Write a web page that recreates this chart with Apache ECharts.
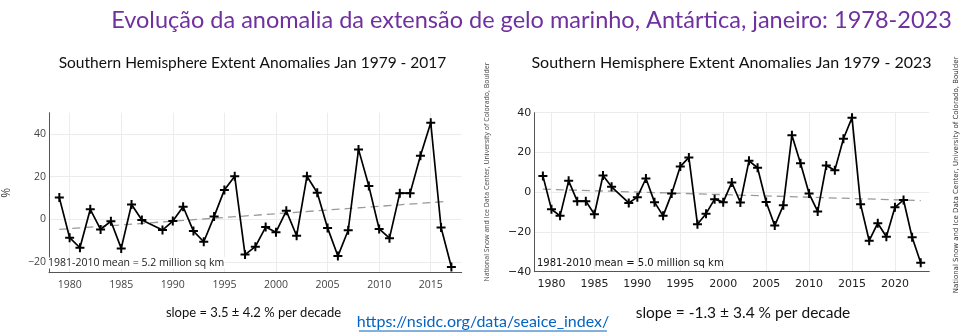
<!DOCTYPE html>
<html><head><meta charset="utf-8">
<script src="https://cdn.jsdelivr.net/npm/echarts@6/dist/echarts.min.js"></script>
<style>html,body{margin:0;padding:0;background:#fff}#c{width:964px;height:336px}</style>
</head><body><div id="c"></div>
<script>
const mainTitle = 'Evolução da anomalia da extensão de gelo marinho, Antártica, janeiro: 1978-2023';
const leftTitle = 'Southern Hemisphere Extent Anomalies Jan 1979 - 2017';
const rightTitle = 'Southern Hemisphere Extent Anomalies Jan 1979 - 2023';
const leftMean = '1981-2010 mean = 5.2 million sq km';
const rightMean = '1981-2010 mean = 5.0 million sq km';
const leftSlope = 'slope = 3.5 ± 4.2 % per decade';
const rightSlope = 'slope = -1.3 ± 3.4 % per decade';
const linkText = 'https://nsidc.org/data/seaice_index/';
const credit = 'National Snow and Ice Data Center, University of Colorado, Boulder';

const leftYears = [1979,1980,1981,1982,1983,1984,1985,1986,1987,1989,1990,1991,1992,1993,1994,1995,1996,1997,1998,1999,2000,2001,2002,2003,2004,2005,2006,2007,2008,2009,2010,2011,2012,2013,2014,2015,2016,2017];
const leftValues = [10.2,-8.6,-13.3,4.7,-4.7,-0.9,-13.6,7.0,-0.3,-5.0,-0.8,5.9,-5.5,-10.5,1.3,13.8,20.2,-16.5,-12.8,-3.6,-6.0,4.0,-7.7,20.2,12.5,-4.0,-17.2,-5.1,32.8,15.6,-4.5,-8.8,12.3,12.3,29.8,45.3,-3.8,-22.3];
const leftTrendYears = [1979, 2016.5];
const leftTrendValues = [-4.7, 8.4];
const leftXTicks = [1980,1985,1990,1995,2000,2005,2010,2015];
const leftYTicks = [-20,0,20,40];

const rightYears = [1979,1980,1981,1982,1983,1984,1985,1986,1987,1989,1990,1991,1992,1993,1994,1995,1996,1997,1998,1999,2000,2001,2002,2003,2004,2005,2006,2007,2008,2009,2010,2011,2012,2013,2014,2015,2016,2017,2018,2019,2020,2021,2022,2023];
const rightValues = [8.2,-8.6,-11.9,5.7,-4.5,-4.5,-11.1,8.4,2.7,-5.4,-2.5,6.9,-5.0,-11.9,-0.7,12.9,17.5,-16.1,-10.8,-3.5,-5.0,4.9,-5.2,15.8,12.3,-4.9,-16.8,-6.6,28.6,14.6,-0.7,-9.7,13.4,11.1,26.9,37.5,-6.1,-24.4,-15.6,-22.4,-7.6,-3.9,-22.7,-35.5];
const rightTrendYears = [1979, 2023];
const rightTrendValues = [1.5, -4.2];
const rightXTicks = [1980,1985,1990,1995,2000,2005,2010,2015,2020];
const rightYTicks = [-40,-20,0,20,40];

const pairs = (xs, ys) => xs.map((x, i) => [x, ys[i]]);
const plus = 'path://M3.5,0h2v3.5h3.5v2h-3.5v3.5h-2v-3.5h-3.5v-2h3.5z';

const chart = echarts.init(document.getElementById('c'), null, {renderer: 'canvas'});
const gridCol = '#ececec';
function xAx(idx, min, max, ticks, font, size, color) {
  return {type: 'value', gridIndex: idx, min, max,
    axisLine: {show: true, onZero: false, lineStyle: {color: '#555', width: 1}},
    axisTick: {show: false, customValues: ticks},
    axisLabel: {customValues: ticks, fontFamily: font, fontSize: size, color, margin: 7, formatter: v => String(v)},
    splitLine: {show: true, lineStyle: {color: gridCol, width: 1}}};
}
function yAx(idx, min, max, ticks, font, size, color, extra) {
  return Object.assign({type: 'value', gridIndex: idx, min, max,
    axisLine: {show: true, onZero: false, lineStyle: {color: '#555', width: 1}},
    axisTick: {show: false, customValues: ticks},
    axisLabel: {customValues: ticks, fontFamily: font, fontSize: size, color, margin: 3,
      formatter: v => (v < 0 ? '\u2212' + Math.abs(v) : String(v))},
    splitLine: {show: true, lineStyle: {color: gridCol, width: 1}}}, extra || {});
}
function dataSeries(idx, data) {
  return {type: 'line', xAxisIndex: idx, yAxisIndex: idx, data, symbol: plus, symbolSize: 9,
    itemStyle: {color: '#000'}, lineStyle: {color: '#000', width: 1.7}, z: 3, animation: false};
}
function trendSeries(idx, data) {
  return {type: 'line', xAxisIndex: idx, yAxisIndex: idx, data, symbol: 'none',
    lineStyle: {color: '#9a9a9a', width: 1.3, type: [8, 5]}, z: 2, animation: false};
}
function txt(text, x, y, font, color, extra) {
  return {type: 'text', x, y, z: 10, style: Object.assign({text, font, fill: color, textAlign: 'center', textVerticalAlign: 'middle'}, extra || {})};
}

chart.setOption({
  animation: false,
  backgroundColor: '#fff',
  grid: [
    {left: 45.7, top: 112.7, width: 416, height: 160},
    {left: 534.3, top: 112.7, width: 395, height: 159}
  ],
  xAxis: [
    xAx(0, 1978, 2018, leftXTicks, 'Open Sans', 10.5, '#444'),
    xAx(1, 1978, 2024, rightXTicks, 'DejaVu Sans', 11, '#222')
  ],
  yAxis: [
    yAx(0, -25, 50, leftYTicks, 'Open Sans', 10.5, '#444',
      {name: '%', nameLocation: 'middle', nameRotate: 90, nameGap: 36,
       nameTextStyle: {fontFamily: 'Open Sans', fontSize: 12, color: '#444'}}),
    yAx(1, -40, 40, rightYTicks, 'DejaVu Sans', 11, '#222')
  ],
  series: [
    trendSeries(0, pairs(leftTrendYears, leftTrendValues)),
    dataSeries(0, pairs(leftYears, leftValues)),
    trendSeries(1, pairs(rightTrendYears, rightTrendValues)),
    dataSeries(1, pairs(rightYears, rightValues))
  ],
  graphic: [
    txt(mainTitle, 531.5, 20, '23.5px Lato', '#7030A0'),
    txt(leftTitle, 252.5, 63, '15.5px Lato', '#111'),
    txt(rightTitle, 731.5, 63, '16px Lato', '#111'),
    txt(leftMean, 48, 263, '10.5px "Open Sans"', '#222', {textAlign: 'left', backgroundColor: '#fff', padding: [0, 1, 0, 0]}),
    txt(rightMean, 537, 263, '10px "DejaVu Sans"', '#111', {textAlign: 'left'}),
    txt(leftSlope, 253.5, 313, '13px Lato', '#111'),
    txt(rightSlope, 743, 313, '15.5px Lato', '#111'),
    txt(linkText, 483, 322, '16px Lato', '#0563C1'),
    {type: 'line', shape: {x1: 359, y1: 331, x2: 607, y2: 331}, style: {stroke: '#0563C1', lineWidth: 1}},
    {type: 'text', x: 487, y: 172, rotation: Math.PI / 2,
      style: {text: credit, font: '7px "Open Sans"', fill: '#444', textAlign: 'center', textVerticalAlign: 'middle'}},
    {type: 'text', x: 956, y: 175, rotation: Math.PI / 2,
      style: {text: credit, font: '7px "DejaVu Sans"', fill: '#333', textAlign: 'center', textVerticalAlign: 'middle'}}
  ]
});
</script></body></html>
